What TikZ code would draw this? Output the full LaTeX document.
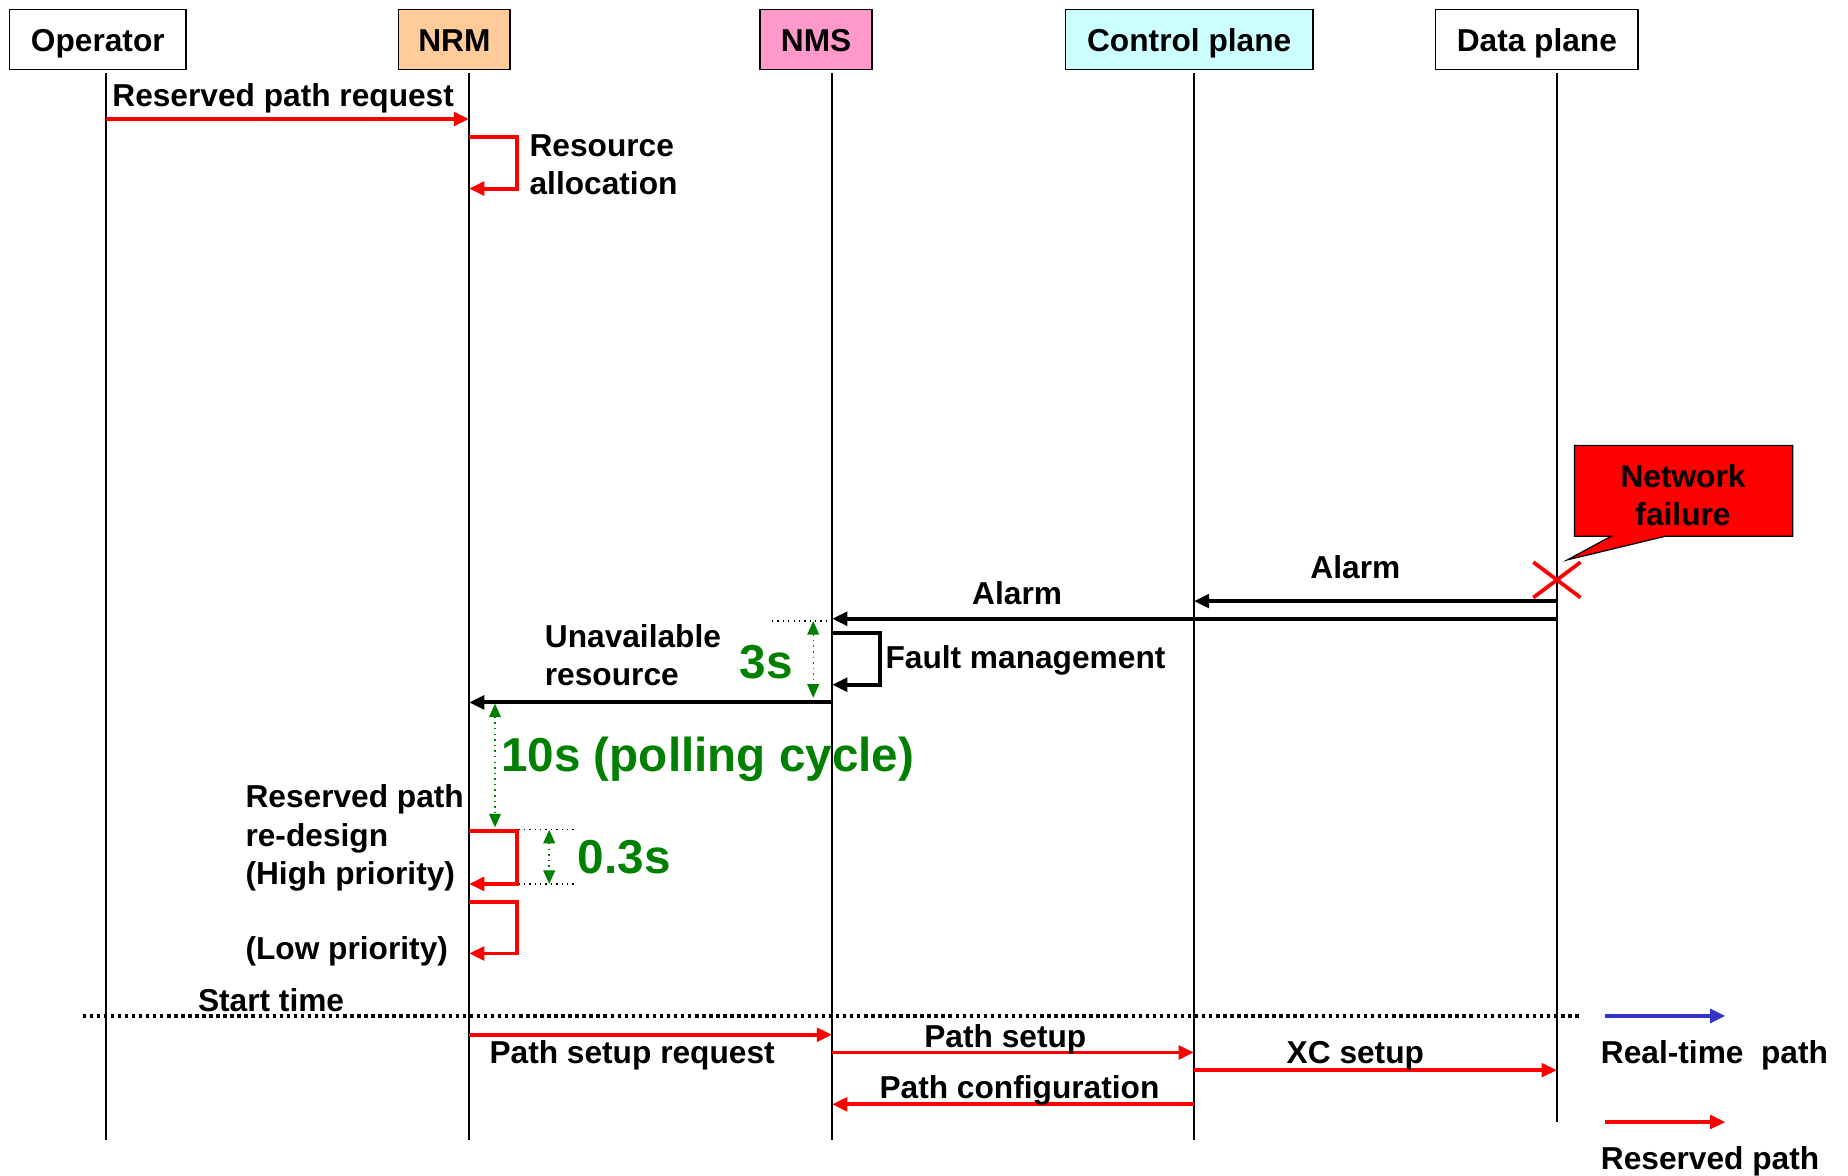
\documentclass[tikz,border=0pt]{standalone}
\usepackage{fontspec}
\setmainfont{Liberation Sans}
\usetikzlibrary{calc,arrows.meta}
\definecolor{nrmfill}{RGB}{255,204,153}
\definecolor{nmsfill}{RGB}{255,153,204}
\definecolor{cpfill}{RGB}{204,255,255}
\definecolor{timegreen}{RGB}{0,128,0}
\definecolor{rtblue}{RGB}{51,51,204}
\newcommand\msgfont{\fontsize{15.3}{18.4}\selectfont\bfseries}
\newcommand\timefont{\fontsize{23}{26}\selectfont\bfseries}
\tikzset{
  actor/.style={draw, line width=0.8pt, minimum height=1.02cm, inner sep=0pt, text height=14.5pt, text depth=3.2pt, font=\msgfont},
  life/.style={line width=0.6pt},
  rmsg/.style={-{Triangle[length=0.26cm,width=0.23cm]}, red, line width=1.9pt},
  bmsg/.style={-{Triangle[length=0.26cm,width=0.23cm]}, black, line width=1.9pt},
  lbl/.style={inner sep=0pt, font=\msgfont},
  tlbl/.style={inner sep=0pt, font=\timefont, text=timegreen},
  span/.style={{Triangle[length=0.23cm,width=0.2cm]}-{Triangle[length=0.23cm,width=0.2cm]}, timegreen, dotted, line width=0.7pt},
  guide/.style={dotted, line width=0.6pt},
}

\begin{document}
\begin{tikzpicture}[x=0.02cm, y=-0.02cm]
        \useasboundingbox (0,0) rectangle (1568,997);
        \node[actor, minimum width=3cm] (op) at (83,33.5) {Operator};
        \node[actor, minimum width=1.9cm, fill=nrmfill] (nrm) at (385.5,33.5) {NRM};
        \node[actor, minimum width=1.9cm, fill=nmsfill] (nms) at (692.5,33.5) {NMS};
        \node[actor, minimum width=4.2cm, fill=cpfill] (cp) at (1009,33.5) {Control plane};
        \node[actor, minimum width=3.44cm] (dat) at (1304,33.5) {Data plane};
        \coordinate (opl) at (90,62);
        \coordinate (nrml) at (398,62);
        \coordinate (nmsl) at (706,62);
        \coordinate (cpl) at (1013,62);
        \coordinate (datl) at (1321,62);
        \draw[life] (opl) -- ++(0,905);
        \draw[life] (nrml) -- ++(0,905);
        \draw[life] (nmsl) -- ++(0,905);
        \draw[life] (cpl) -- ++(0,905);
        \draw[life] (datl) -- ++(0,890);

        \draw[rmsg] (opl |- 0,101) -- (nrml |- 0,101);
        \node[lbl, anchor=base west] (req) at (95,90) {Reserved path request};
        \draw[rmsg] (nrml |- 0,116) -- ++(41,0) |- (nrml |- 0,160);
        \node[lbl, anchor=west, align=left] (alloc) at (449,140) {Resource\\allocation};

        % failure
        \draw[fill=red, line width=0.6pt] (1336,378) -- (1521,378) -- (1521,455) -- (1413,455) -- (1330,475) -- (1367,455) -- (1336,455) -- cycle;
        \node[lbl, align=center] (nf) at (1428,420) {Network\\failure};
        \draw[red, line width=1.8pt] (1301,477) -- (1341,507) (1301,507) -- (1341,477);

        \draw[bmsg] (datl |- 0,510) -- (cpl |- 0,510);
        \node[lbl, anchor=base] (alarm1) at (1150,491) {Alarm};
        \draw[bmsg] (datl |- 0,525) -- (nmsl |- 0,525);
        \node[lbl, anchor=base] (alarm2) at (863,513) {Alarm};
        \draw[bmsg] (nmsl |- 0,537) -- ++(41,0) |- (nmsl |- 0,581);
        \node[lbl, anchor=base west] (fault) at (751,567) {Fault management};
        \draw[bmsg] (nmsl |- 0,596) -- (nrml |- 0,596);
        \node[lbl, anchor=west, align=left] (unav) at (462,556) {Unavailable\\resource};

        \draw[guide] (655,527) -- (nmsl |- 0,527);
        \draw[span] (690,527) -- (690,592);
        \node[tlbl, anchor=base] (t3) at (650,576) {3s};
        \draw[span] (420,597) -- (420,702);
        \node[tlbl, anchor=base west] (t10) at (425,655) {10s (polling cycle)};

        \draw[rmsg] (nrml |- 0,705) -- ++(41,0) |- (nrml |- 0,750);
        \node[lbl, anchor=west, align=left] (high) at (208,711) {Reserved path\\re-design\\(High priority)};
        \draw[guide] (440,704) -- (490,704);
        \draw[guide] (440,750) -- (490,750);
        \draw[span] (466,704) -- (466,750);
        \node[tlbl, anchor=base west] (t03) at (490,741) {0.3s};
        \draw[rmsg] (nrml |- 0,765) -- ++(41,0) |- (nrml |- 0,809);
        \node[lbl, anchor=base west] (low) at (208,814) {(Low priority)};

        % start of the reserved path
        \draw[dash pattern=on 1.7pt off 1.7pt, line width=1.7pt] (70,862) -- (1340,862);
        \node[lbl, anchor=base] (start) at (230,858) {Start time};
        \draw[rmsg] (nrml |- 0,878) -- (nmsl |- 0,878);
        \node[lbl, anchor=base west] (psreq) at (415,902) {Path setup request};
        \draw[rmsg] (nmsl |- 0,893) -- (cpl |- 0,893);
        \node[lbl, anchor=base] (ps) at (853,889) {Path setup};
        \draw[rmsg] (cpl |- 0,908) -- (datl |- 0,908);
        \node[lbl, anchor=base] (xc) at (1150,902) {XC setup};
        \draw[rmsg] (cpl |- 0,937) -- (nmsl |- 0,937);
        \node[lbl, anchor=base] (pconf) at (865,932) {Path configuration};

        \draw[rmsg, rtblue] (1362,862) -- (1464,862);
        \node[lbl, anchor=base west] (rt) at (1358,902) {Real-time\ \ path};
        \draw[rmsg] (1362,952) -- (1464,952);
        \node[lbl, anchor=base west] (rp) at (1358,992) {Reserved path};
    \end{tikzpicture}
\end{document}
